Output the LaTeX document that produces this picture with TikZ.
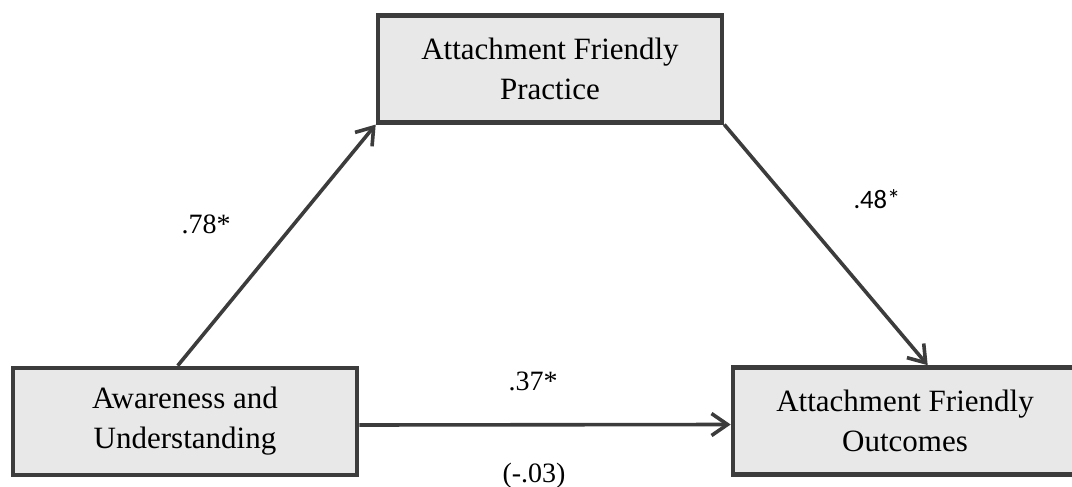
\documentclass[tikz,border=0pt]{standalone}
\usepackage{fontspec}
\setmainfont{Liberation Serif}
\newfontfamily\coefsans{Carlito}
\usetikzlibrary{arrows.meta,calc}
\definecolor{edgegray}{HTML}{3C3C3C}
\definecolor{boxfill}{HTML}{E8E8E8}
\begin{document}
\begin{tikzpicture}[x=0.5pt,y=-0.5pt,
  varbox/.style={draw=edgegray, fill=boxfill, line width=2.3pt,
    minimum width=172pt, minimum height=53.5pt, inner sep=0pt,
    align=center, font=\fontsize{15.5}{20}\selectfont},
  link/.style={draw=edgegray, line width=1.8pt,
    -{Straight Barb[length=8pt,width=11pt]}},
  coef/.style={anchor=base, inner sep=0pt, font=\fontsize{14}{16}\selectfont}]
\useasboundingbox (0,0) rectangle (1072,487);

% the three variables
\node[varbox] (tp) at (550,68.75) {Attachment Friendly\\Practice};
\node[varbox] (lb) at (185,421.5) {Awareness and\\Understanding};
\node[varbox] (rb) at (905,421) {Attachment Friendly\\Outcomes};

% paths
\coordinate (aStart) at ($(lb.north west)+(167,0)$);
\coordinate (bEnd) at ($(rb.north west)+(197,0)$);
\draw[link] (aStart) -- (tp.south west);
\draw[link] (tp.south east) -- (bEnd);
\draw[link] ($(lb.east)+(0,3.5)$) -- ($(rb.west)+(0,3.5)$);

% path coefficients
\node[coef] (ca) at (206,233) {.78*};
\node[coef, font=\coefsans\fontsize{13.3}{16}\selectfont] (cb) at (877,208) {.48*};
\node[coef] (cc) at (533,390) {.37*};
\node[coef] (cd) at (534,482) {(-.03)};
\end{tikzpicture}
\end{document}
